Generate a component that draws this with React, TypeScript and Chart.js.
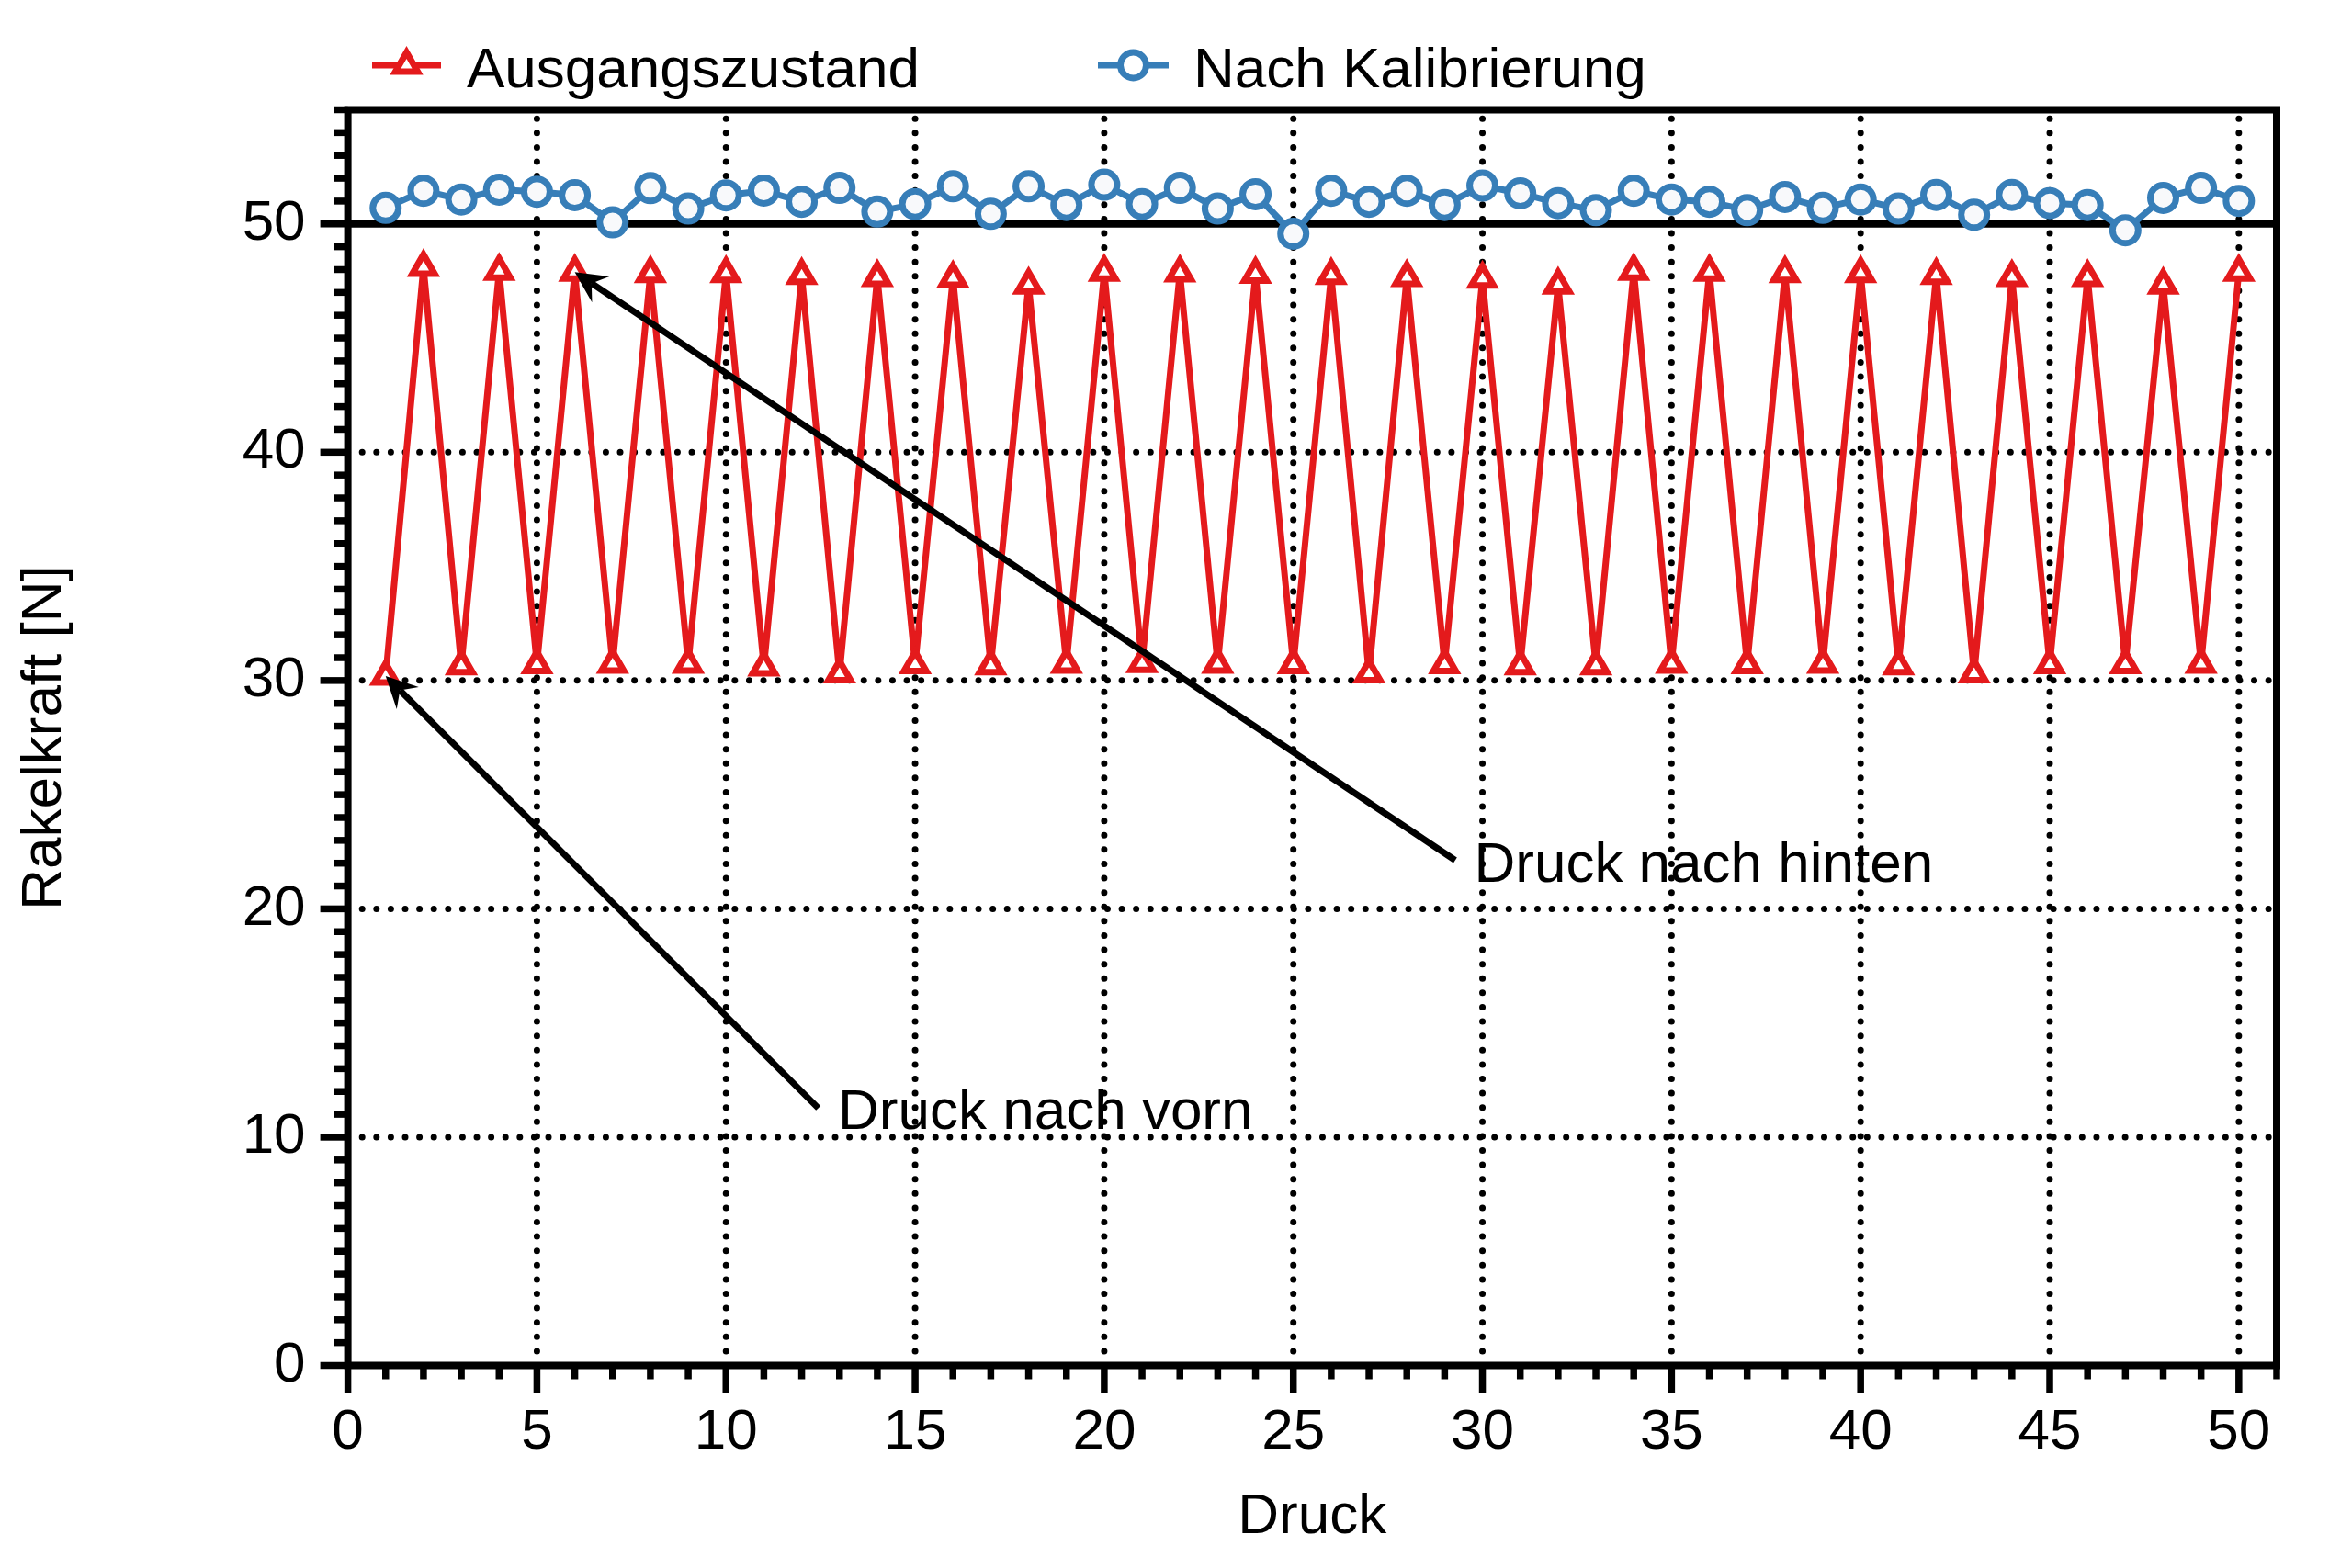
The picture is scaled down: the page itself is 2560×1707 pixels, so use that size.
import React, { useEffect, useRef } from "react";
import { Chart, registerables } from "chart.js";

Chart.register(...registerables);

// ---------- data ----------
const DRUCK: number[] = [
  1, 2, 3, 4, 5, 6, 7, 8, 9, 10, 11, 12, 13, 14, 15, 16, 17, 18, 19, 20, 21, 22, 23, 24, 25,
  26, 27, 28, 29, 30, 31, 32, 33, 34, 35, 36, 37, 38, 39, 40, 41, 42, 43, 44, 45, 46, 47, 48, 49, 50,
];

const AUSGANGSZUSTAND: number[] = [
  30.2, 48.1, 30.65, 47.93, 30.7, 47.89, 30.72, 47.83, 30.72, 47.83,
  30.6, 47.75, 30.3, 47.66, 30.7, 47.62, 30.65, 47.33, 30.72, 47.89,
  30.75, 47.86, 30.72, 47.8, 30.7, 47.75, 30.3, 47.66, 30.7, 47.59,
  30.65, 47.33, 30.65, 47.93, 30.72, 47.89, 30.7, 47.83, 30.72, 47.83,
  30.65, 47.75, 30.3, 47.66, 30.7, 47.66, 30.7, 47.33, 30.72, 47.89,
];

const NACH_KALIBRIERUNG: number[] = [
  50.7, 51.45, 51.07, 51.5, 51.41, 51.26, 50.07, 51.57, 50.67, 51.25,
  51.46, 50.97, 51.58, 50.54, 50.87, 51.65, 50.44, 51.65, 50.83, 51.72,
  50.87, 51.58, 50.67, 51.3, 49.57, 51.45, 50.97, 51.45, 50.83, 51.68,
  51.34, 50.91, 50.6, 51.45, 51.07, 50.97, 50.6, 51.18, 50.7, 51.07,
  50.67, 51.27, 50.4, 51.27, 50.91, 50.83, 49.72, 51.14, 51.58, 51.01,
];

const SERIES_LABELS: string[] = ["Ausgangszustand", "Nach Kalibrierung"];
const X_TITLE = "Druck";
const Y_TITLE = "Rakelkraft [N]";

const X_RANGE: number[] = [0, 51];
const Y_RANGE: number[] = [0, 55];
const X_MAJOR_TICKS: number[] = [0, 5, 10, 15, 20, 25, 30, 35, 40, 45, 50];
const Y_MAJOR_TICKS: number[] = [0, 10, 20, 30, 40, 50];
const X_GRID: number[] = [5, 10, 15, 20, 25, 30, 35, 40, 45, 50];
const Y_GRID: number[] = [10, 20, 30, 40];
const REFERENCE_LEVEL = 50;

const ANNOTATION_TEXTS: string[] = ["Druck nach hinten", "Druck nach vorn"];
const ANNOTATION_POINT_INDEX: number[] = [5, 0];
const ANNOTATION_TAIL_X: number[] = [29.28, 12.44];
const ANNOTATION_TAIL_Y: number[] = [22.13, 11.27];
const ANNOTATION_LABEL_X: number[] = [29.78, 12.96];
const ANNOTATION_LABEL_Y: number[] = [21.2, 10.35];

// ---------- style ----------
const RED = "#e41a1c";
const BLUE = "#377eb8";
const FONT_FAMILY = "'Liberation Sans', Arial, Helvetica, sans-serif";
const FONT_SIZE = 62;

function trianglePath(ctx: CanvasRenderingContext2D, x: number, y: number, r: number) {
  ctx.beginPath();
  ctx.moveTo(x, y - r);
  ctx.lineTo(x + 0.866 * r, y + 0.5 * r);
  ctx.lineTo(x - 0.866 * r, y + 0.5 * r);
  ctx.closePath();
}

const framePlugin = {
  id: "framePlugin",
  beforeDatasetsDraw(chart: any) {
    const { ctx, chartArea } = chart;
    const xs = chart.scales.x;
    const ys = chart.scales.y;
    ctx.save();
    // dotted grid
    ctx.strokeStyle = "#000";
    ctx.lineWidth = 7;
    ctx.lineCap = "round";
    ctx.setLineDash([0.001, 15.6]);
    Y_GRID.forEach((v) => {
      const py = ys.getPixelForValue(v);
      ctx.beginPath();
      ctx.moveTo(chartArea.left, py);
      ctx.lineTo(chartArea.right, py);
      ctx.stroke();
    });
    X_GRID.forEach((v) => {
      const px = xs.getPixelForValue(v);
      ctx.beginPath();
      ctx.moveTo(px, chartArea.bottom);
      ctx.lineTo(px, chartArea.top);
      ctx.stroke();
    });
    ctx.setLineDash([]);
    ctx.lineCap = "butt";
    // reference line at 50
    const ry = ys.getPixelForValue(REFERENCE_LEVEL);
    ctx.lineWidth = 8;
    ctx.beginPath();
    ctx.moveTo(chartArea.left, ry);
    ctx.lineTo(chartArea.right, ry);
    ctx.stroke();
    ctx.restore();
  },
  afterDatasetsDraw(chart: any) {
    const { ctx, chartArea } = chart;
    const xs = chart.scales.x;
    const ys = chart.scales.y;
    ctx.save();
    // frame
    ctx.strokeStyle = "#000";
    ctx.lineWidth = 8;
    ctx.lineCap = "butt";
    ctx.beginPath();
    ctx.moveTo(chartArea.left, chartArea.top);
    ctx.lineTo(chartArea.right + 4, chartArea.top);
    ctx.moveTo(chartArea.right, chartArea.top);
    ctx.lineTo(chartArea.right, chartArea.bottom);
    ctx.moveTo(chartArea.left, chartArea.top - 4);
    ctx.lineTo(chartArea.left, chartArea.bottom + 4);
    ctx.moveTo(chartArea.left - 4, chartArea.bottom);
    ctx.lineTo(chartArea.right + 4, chartArea.bottom);
    ctx.stroke();
    ctx.lineWidth = 7.5;
    // x ticks
    for (let v = X_RANGE[0]; v <= X_RANGE[1]; v++) {
      const px = xs.getPixelForValue(v);
      const len = X_MAJOR_TICKS.includes(v) ? 30 : 15;
      ctx.beginPath();
      ctx.moveTo(px, chartArea.bottom);
      ctx.lineTo(px, chartArea.bottom + len);
      ctx.stroke();
    }
    // y ticks
    for (let v = Y_RANGE[0]; v <= Y_RANGE[1]; v++) {
      const py = ys.getPixelForValue(v);
      const len = Y_MAJOR_TICKS.includes(v) ? 30 : 15;
      ctx.beginPath();
      ctx.moveTo(chartArea.left, py);
      ctx.lineTo(chartArea.left - len, py);
      ctx.stroke();
    }
    // annotations
    ANNOTATION_TEXTS.forEach((text, i) => {
      const idx = ANNOTATION_POINT_INDEX[i];
      const tipX = xs.getPixelForValue(DRUCK[idx]);
      const tipY = ys.getPixelForValue(AUSGANGSZUSTAND[idx]);
      const tailX = xs.getPixelForValue(ANNOTATION_TAIL_X[i]);
      const tailY = ys.getPixelForValue(ANNOTATION_TAIL_Y[i]);
      const dx = tipX - tailX;
      const dy = tipY - tailY;
      const L = Math.hypot(dx, dy);
      const ux = dx / L;
      const uy = dy / L;
      const pxn = -uy;
      const pyn = ux;
      const headLen = 34;
      const notch = 22;
      const half = 17;
      ctx.strokeStyle = "#000";
      ctx.fillStyle = "#000";
      ctx.lineWidth = 7;
      ctx.beginPath();
      ctx.moveTo(tailX, tailY);
      ctx.lineTo(tipX - ux * notch, tipY - uy * notch);
      ctx.stroke();
      ctx.beginPath();
      ctx.moveTo(tipX, tipY);
      ctx.lineTo(tipX - ux * headLen + pxn * half, tipY - uy * headLen + pyn * half);
      ctx.lineTo(tipX - ux * notch, tipY - uy * notch);
      ctx.lineTo(tipX - ux * headLen - pxn * half, tipY - uy * headLen - pyn * half);
      ctx.closePath();
      ctx.fill();
      ctx.font = `${FONT_SIZE}px ${FONT_FAMILY}`;
      ctx.textAlign = "left";
      ctx.textBaseline = "alphabetic";
      ctx.fillText(text, xs.getPixelForValue(ANNOTATION_LABEL_X[i]), ys.getPixelForValue(ANNOTATION_LABEL_Y[i]));
    });
    ctx.restore();
  },
  afterDraw(chart: any) {
    const { ctx } = chart;
    ctx.save();
    const items = [
      { label: SERIES_LABELS[0], color: RED, style: "triangle", x0: 405, x1: 480, tx: 508 },
      { label: SERIES_LABELS[1], color: BLUE, style: "circle", x0: 1195, x1: 1272, tx: 1299 },
    ];
    const ly = 71;
    items.forEach((it) => {
      ctx.strokeStyle = it.color;
      ctx.lineWidth = 7;
      ctx.beginPath();
      ctx.moveTo(it.x0, ly);
      ctx.lineTo(it.x1, ly);
      ctx.stroke();
      const cx = (it.x0 + it.x1) / 2;
      ctx.fillStyle = "#fff";
      ctx.lineWidth = 7;
      if (it.style === "triangle") {
        trianglePath(ctx, cx, ly, 14);
      } else {
        ctx.beginPath();
        ctx.arc(cx, ly, 14, 0, Math.PI * 2);
      }
      ctx.fill();
      ctx.stroke();
      ctx.fillStyle = "#000";
      ctx.font = `${FONT_SIZE}px ${FONT_FAMILY}`;
      ctx.textAlign = "left";
      ctx.textBaseline = "alphabetic";
      ctx.fillText(it.label, it.tx, 95);
    });
    ctx.restore();
  },
};

export default function App() {
  const canvasRef = useRef<HTMLCanvasElement | null>(null);

  useEffect(() => {
    const canvas = canvasRef.current;
    if (!canvas) return;
    const font = { family: FONT_FAMILY, size: FONT_SIZE };
    const chart = new Chart(canvas, {
      type: "line",
      data: {
        datasets: [
          {
            label: SERIES_LABELS[0],
            data: DRUCK.map((x, i) => ({ x, y: AUSGANGSZUSTAND[i] })),
            borderColor: RED,
            backgroundColor: RED,
            borderWidth: 7,
            tension: 0,
            pointStyle: "triangle",
            pointRadius: 14,
            pointBorderWidth: 7,
            pointBackgroundColor: "#ffffff",
            pointBorderColor: RED,
            clip: false,
          },
          {
            label: SERIES_LABELS[1],
            data: DRUCK.map((x, i) => ({ x, y: NACH_KALIBRIERUNG[i] })),
            borderColor: BLUE,
            backgroundColor: BLUE,
            borderWidth: 7,
            tension: 0,
            pointStyle: "circle",
            pointRadius: 14,
            pointBorderWidth: 7,
            pointBackgroundColor: "#f8f9fb",
            pointBorderColor: BLUE,
            clip: false,
          },
        ],
      } as any,
      options: {
        responsive: false,
        maintainAspectRatio: false,
        animation: false,
        events: [],
        layout: { padding: { top: 119.5, right: 82, left: 0, bottom: 0 } },
        plugins: {
          legend: { display: false },
          tooltip: { enabled: false },
        },
        scales: {
          x: {
            type: "linear",
            min: X_RANGE[0],
            max: X_RANGE[1],
            afterBuildTicks: (s: any) => {
              s.ticks = X_MAJOR_TICKS.map((v) => ({ value: v }));
            },
            afterFit: (s: any) => {
              s.height = 220.5;
            },
            grid: { display: false, drawTicks: false },
            border: { display: false },
            ticks: { font, color: "#000", padding: 36, maxRotation: 0, autoSkip: false },
            title: { display: true, text: X_TITLE, font, color: "#000", padding: { top: 0, bottom: 18 } },
          },
          y: {
            type: "linear",
            min: Y_RANGE[0],
            max: Y_RANGE[1],
            afterBuildTicks: (s: any) => {
              s.ticks = Y_MAJOR_TICKS.map((v) => ({ value: v }));
            },
            afterFit: (s: any) => {
              s.width = 378.6;
            },
            grid: { display: false, drawTicks: false },
            border: { display: false },
            ticks: { font, color: "#000", padding: 46, autoSkip: false },
            title: { display: true, text: Y_TITLE, font, color: "#000", padding: { top: 12, bottom: 0 } },
          },
        },
      } as any,
      plugins: [framePlugin],
    });
    return () => chart.destroy();
  }, []);

  return (
    <div style={{ position: "absolute", left: 0, top: 0, width: 2560, height: 1707, background: "#fff" }}>
      <canvas ref={canvasRef} width={2560} height={1707} style={{ width: 2560, height: 1707, display: "block" }} />
    </div>
  );
}
